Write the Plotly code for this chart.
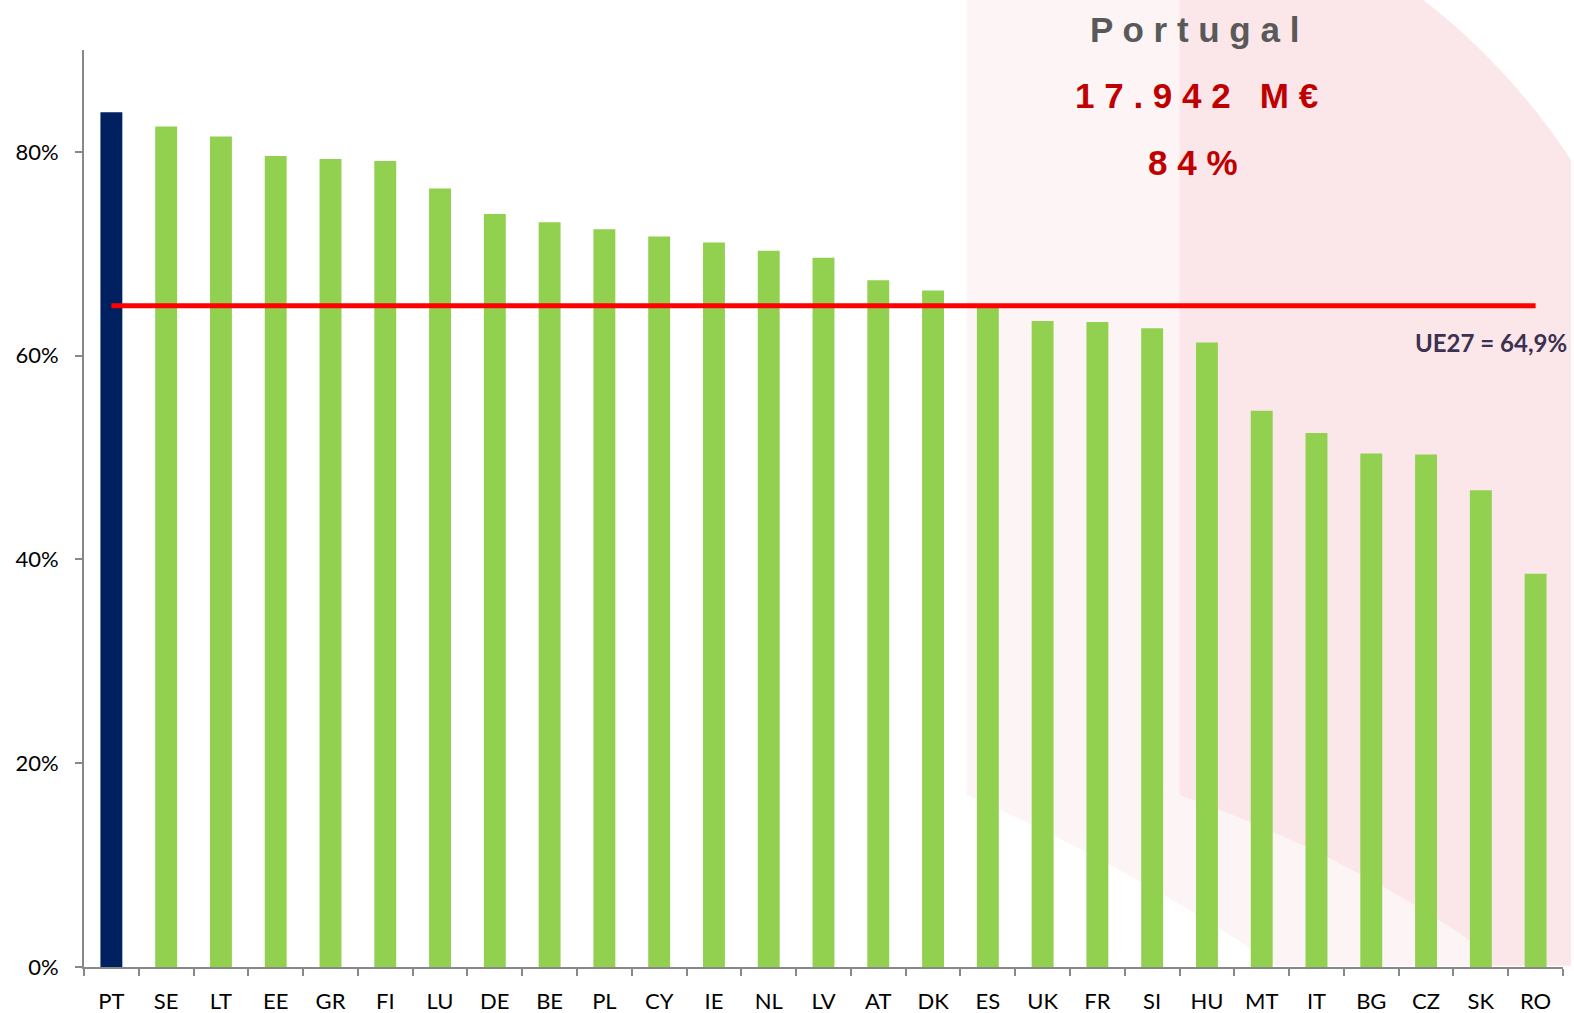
import plotly.graph_objects as go

countries = ["PT", "SE", "LT", "EE", "GR", "FI", "LU", "DE", "BE", "PL", "CY", "IE", "NL", "LV",
             "AT", "DK", "ES", "UK", "FR", "SI", "HU", "MT", "IT", "BG", "CZ", "SK", "RO"]
values = [83.9, 82.5, 81.5, 79.6, 79.3, 79.1, 76.4, 73.9, 73.1, 72.4, 71.7, 71.1, 70.3, 69.6,
          67.4, 66.4, 64.8, 63.4, 63.3, 62.7, 61.3, 54.6, 52.4, 50.4, 50.3, 46.8, 38.6]
highlight = "PT"
eu_avg = 64.9
eu_label = "UE27 = 64,9%"
title_country = "Portugal"
title_amount = "17.942 M€"
title_share = "84%"
y_ticks = [0, 20, 40, 60, 80]

W, H = 1574, 1013
L, R, T, B = 84, 11, 50, 46
PW, PH = W - L - R, H - T - B
S = 1574 / 1568  # decoration coordinates measured at reduced scale


def px(x):
    return (x * S - L) / PW


def py(y):
    return (H - B - y * S) / PH


def path(points_cmds):
    out = []
    for cmd in points_cmds:
        c = cmd[0]
        nums = cmd[1:]
        pts = []
        for i in range(0, len(nums), 2):
            pts.append(f"{px(nums[i]):.4f},{py(nums[i+1]):.4f}")
        out.append(c + " " + " ".join(pts))
    return " ".join(out) + " Z"


colors = ["#002060" if c == highlight else "#92d050" for c in countries]

fig = go.Figure()
fig.add_trace(go.Bar(
    x=countries, y=values, marker=dict(color=colors, line=dict(width=0)),
    width=0.4, hoverinfo="x+y", showlegend=False,
))
fig.add_trace(go.Scatter(
    x=[countries[0], countries[-1]], y=[eu_avg, eu_avg], mode="lines",
    line=dict(color="#ff0000", width=5), showlegend=False, hoverinfo="skip",
))

shapes = [
    dict(type="path", xref="paper", yref="paper", layer="below", line=dict(width=0),
         fillcolor="#fdf4f5",
         path=path([("M", 963, 0), ("L", 963, 792), ("Q", 1120, 860, 1272, 962),
                    ("L", 1565, 962), ("L", 1565, 0)])),
    dict(type="path", xref="paper", yref="paper", layer="below", line=dict(width=0),
         fillcolor="#fbe6e9",
         path=path([("M", 1175, 0), ("L", 1175, 792), ("Q", 1340, 850, 1473, 943),
                    ("L", 1478, 962), ("L", 1565, 962), ("L", 1565, 0)])),
    dict(type="path", xref="paper", yref="paper", layer="below", line=dict(width=0),
         fillcolor="#ffffff",
         path=path([("M", 1418, 0), ("Q", 1508, 70, 1570, 167), ("L", 1570, 0)])),
]

annotations = [
    dict(text=" ".join(title_country), xref="paper", yref="paper", x=px(1190), y=py(29),
         showarrow=False, font=dict(family="Liberation Sans", size=35, color="#595959",
                                    weight="bold"),
         xanchor="center", yanchor="middle"),
    dict(text=" ".join(title_amount.replace(" ", "\u00a0")), xref="paper", yref="paper",
         x=px(1192), y=py(95), showarrow=False,
         font=dict(family="Liberation Sans", size=35, color="#c00000", weight="bold"),
         xanchor="center", yanchor="middle"),
    dict(text=" ".join(title_share), xref="paper", yref="paper", x=px(1188), y=py(162),
         showarrow=False, font=dict(family="Liberation Sans", size=35, color="#c00000",
                                    weight="bold"),
         xanchor="center", yanchor="middle"),
    dict(text=eu_label, xref="paper", yref="paper", x=px(1563), y=py(341),
         showarrow=False, font=dict(family="Lato", size=24, color="#3b3150", weight="bold"),
         xanchor="right", yanchor="middle"),
]

fig.update_layout(
    width=W, height=H,
    margin=dict(l=L, r=R, t=T, b=B, pad=0, autoexpand=False),
    paper_bgcolor="#ffffff", plot_bgcolor="rgba(0,0,0,0)",
    shapes=shapes, annotations=annotations,
    bargap=0.6, showlegend=False,
    font=dict(family="Lato", size=21, color="#000000"),
)
fig.update_xaxes(
    type="category", showgrid=False, showline=True, linecolor="#888888", linewidth=2,
    ticks="outside", tickson="boundaries", ticklen=7, tickcolor="#888888", tickwidth=2,
    tickfont=dict(family="Lato", size=22, color="#000000"), ticklabelstandoff=14,
    zeroline=False, range=[-0.5, len(countries) - 0.5],
)
fig.update_yaxes(
    range=[0, 90], tickvals=y_ticks, ticktext=[f"{v}%" for v in y_ticks],
    showgrid=False, showline=True, linecolor="#888888", linewidth=2,
    ticks="outside", ticklen=7, tickcolor="#888888", tickwidth=2,
    tickfont=dict(family="Lato", size=22, color="#000000"), ticklabelstandoff=12,
    zeroline=False,
)

fig.write_html("out.html", config={"displayModeBar": False},
               post_script="document.body.style.margin='0';document.body.style.overflow='hidden';")
